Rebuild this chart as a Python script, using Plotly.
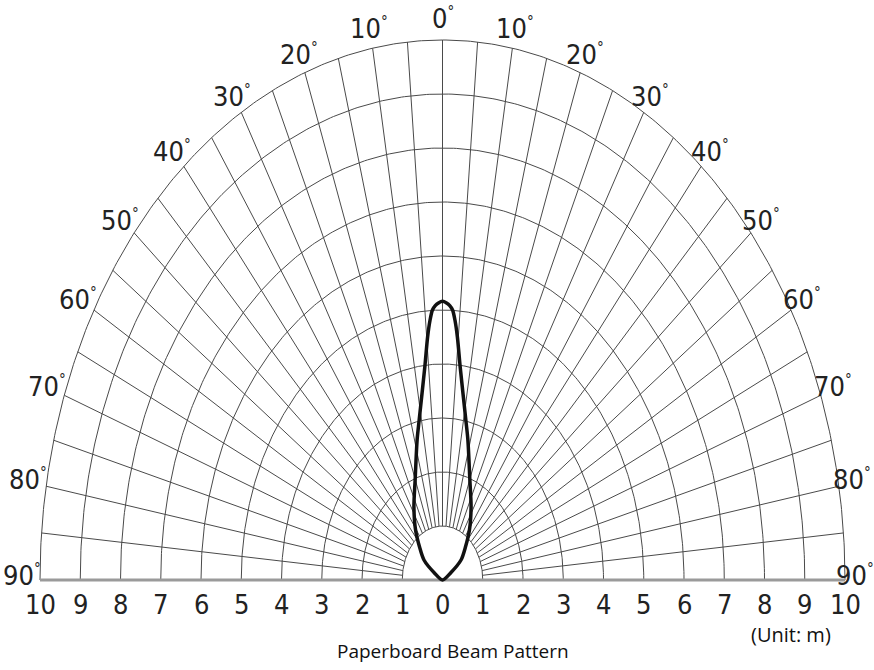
import numpy as np
import plotly.graph_objects as go

# ---- data ----
ring_radii = [1, 2, 3, 4, 5, 6, 7, 8, 9, 10]          # metres
spoke_angles = list(range(-85, 90, 5))                # degrees from axis
angle_labels = [0, 10, 20, 30, 40, 50, 60, 70, 80, 90]
range_tick_values = list(range(-10, 11))
range_tick_labels = [str(abs(v)) for v in range_tick_values]

# beam pattern (distance along axis, half-width), metres
beam_distance = [0.0, 0.13, 0.37, 0.61, 0.93, 1.35, 1.85, 2.6, 2.96, 3.94, 4.5, 4.81, 5.0, 5.08, 5.13, 5.16]
beam_halfwidth = [0.0, 0.20, 0.46, 0.57, 0.67, 0.71, 0.68, 0.63, 0.58, 0.44, 0.37, 0.31, 0.25, 0.18, 0.10, 0.0]

title_text = "Paperboard Beam Pattern"
unit_text = "(Unit: m)"

GRID = "#4a4a4a"
LABEL_FONT = "Liberation Sans Narrow, DejaVu Sans Condensed, Arial Narrow, Liberation Sans, sans-serif"

fig = go.Figure()

# rings
rx, ry = [], []
th = np.radians(np.arange(-90, 90.5, 0.5))
for r in ring_radii:
    rx += list(r * np.sin(th)) + [None]
    ry += list(r * np.cos(th)) + [None]
fig.add_trace(go.Scatter(x=rx, y=ry, mode="lines", line=dict(color=GRID, width=1),
                         hoverinfo="skip", showlegend=False))

# spokes
sx, sy = [], []
r0, r1 = ring_radii[0], ring_radii[-1]
for a in spoke_angles:
    t = np.radians(a)
    sx += [r0 * np.sin(t), r1 * np.sin(t), None]
    sy += [r0 * np.cos(t), r1 * np.cos(t), None]
fig.add_trace(go.Scatter(x=sx, y=sy, mode="lines", line=dict(color=GRID, width=1),
                         hoverinfo="skip", showlegend=False))

# baseline
fig.add_trace(go.Scatter(x=[range_tick_values[0], range_tick_values[-1]], y=[0, 0], mode="lines",
                         line=dict(color="#9a9a9a", width=3), hoverinfo="skip", showlegend=False))

# beam (left half bottom->top, right half top->bottom, no duplicated apex)
bx = [-w for w in beam_halfwidth] + [w for w in beam_halfwidth[::-1]][1:]
by = beam_distance + beam_distance[::-1][1:]
fig.add_trace(go.Scatter(x=bx, y=by, mode="lines",
                         line=dict(color="#111111", width=3.5, shape="spline", smoothing=0.8),
                         hoverinfo="skip", showlegend=False))

# angle labels
for a in angle_labels:
    sides = [0] if a == 0 else [-1, 1]
    for s in sides:
        t = np.radians(a)
        shift = 18 if s < 0 else (10 if a == 90 else 13)
        fig.add_annotation(x=s * r1 * np.sin(t), y=r1 * np.cos(t), xref="x", yref="y",
                           text=f"{a}<sup><span style='font-size:15px'>°</span></sup>", showarrow=False,
                           xshift=s * shift * np.sin(t), yshift=22 - 17 * a / 90,
                           font=dict(family=LABEL_FONT, size=27, color="#222222"))

# range tick labels
for v, lab in zip(range_tick_values, range_tick_labels):
    fig.add_annotation(x=v, y=-0.46, xref="x", yref="y", text=lab, showarrow=False,
                       font=dict(family=LABEL_FONT, size=27, color="#222222"))

fig.add_annotation(x=8.67, y=-1.0, xref="x", yref="y", text=unit_text, showarrow=False,
                   font=dict(family="Open Sans, sans-serif", size=20, color="#111111"))
fig.add_annotation(x=0.25, y=-1.32, xref="x", yref="y", text=title_text, showarrow=False,
                   font=dict(family="Open Sans, sans-serif", size=19, color="#111111"))

fig.update_layout(
    width=874, height=670, autosize=False,
    margin=dict(l=0, r=0, t=0, b=0),
    paper_bgcolor="white", plot_bgcolor="white",
    xaxis=dict(range=[-10 - 40 / 40.25, 10 + 29 / 40.25], visible=False, fixedrange=True),
    yaxis=dict(range=[-90 / 54, 580 / 54], visible=False, fixedrange=True),
    showlegend=False,
)

fig.write_html("out.html", config={"displayModeBar": False},
               post_script="document.body.style.margin='0px';document.body.style.overflow='hidden';")
